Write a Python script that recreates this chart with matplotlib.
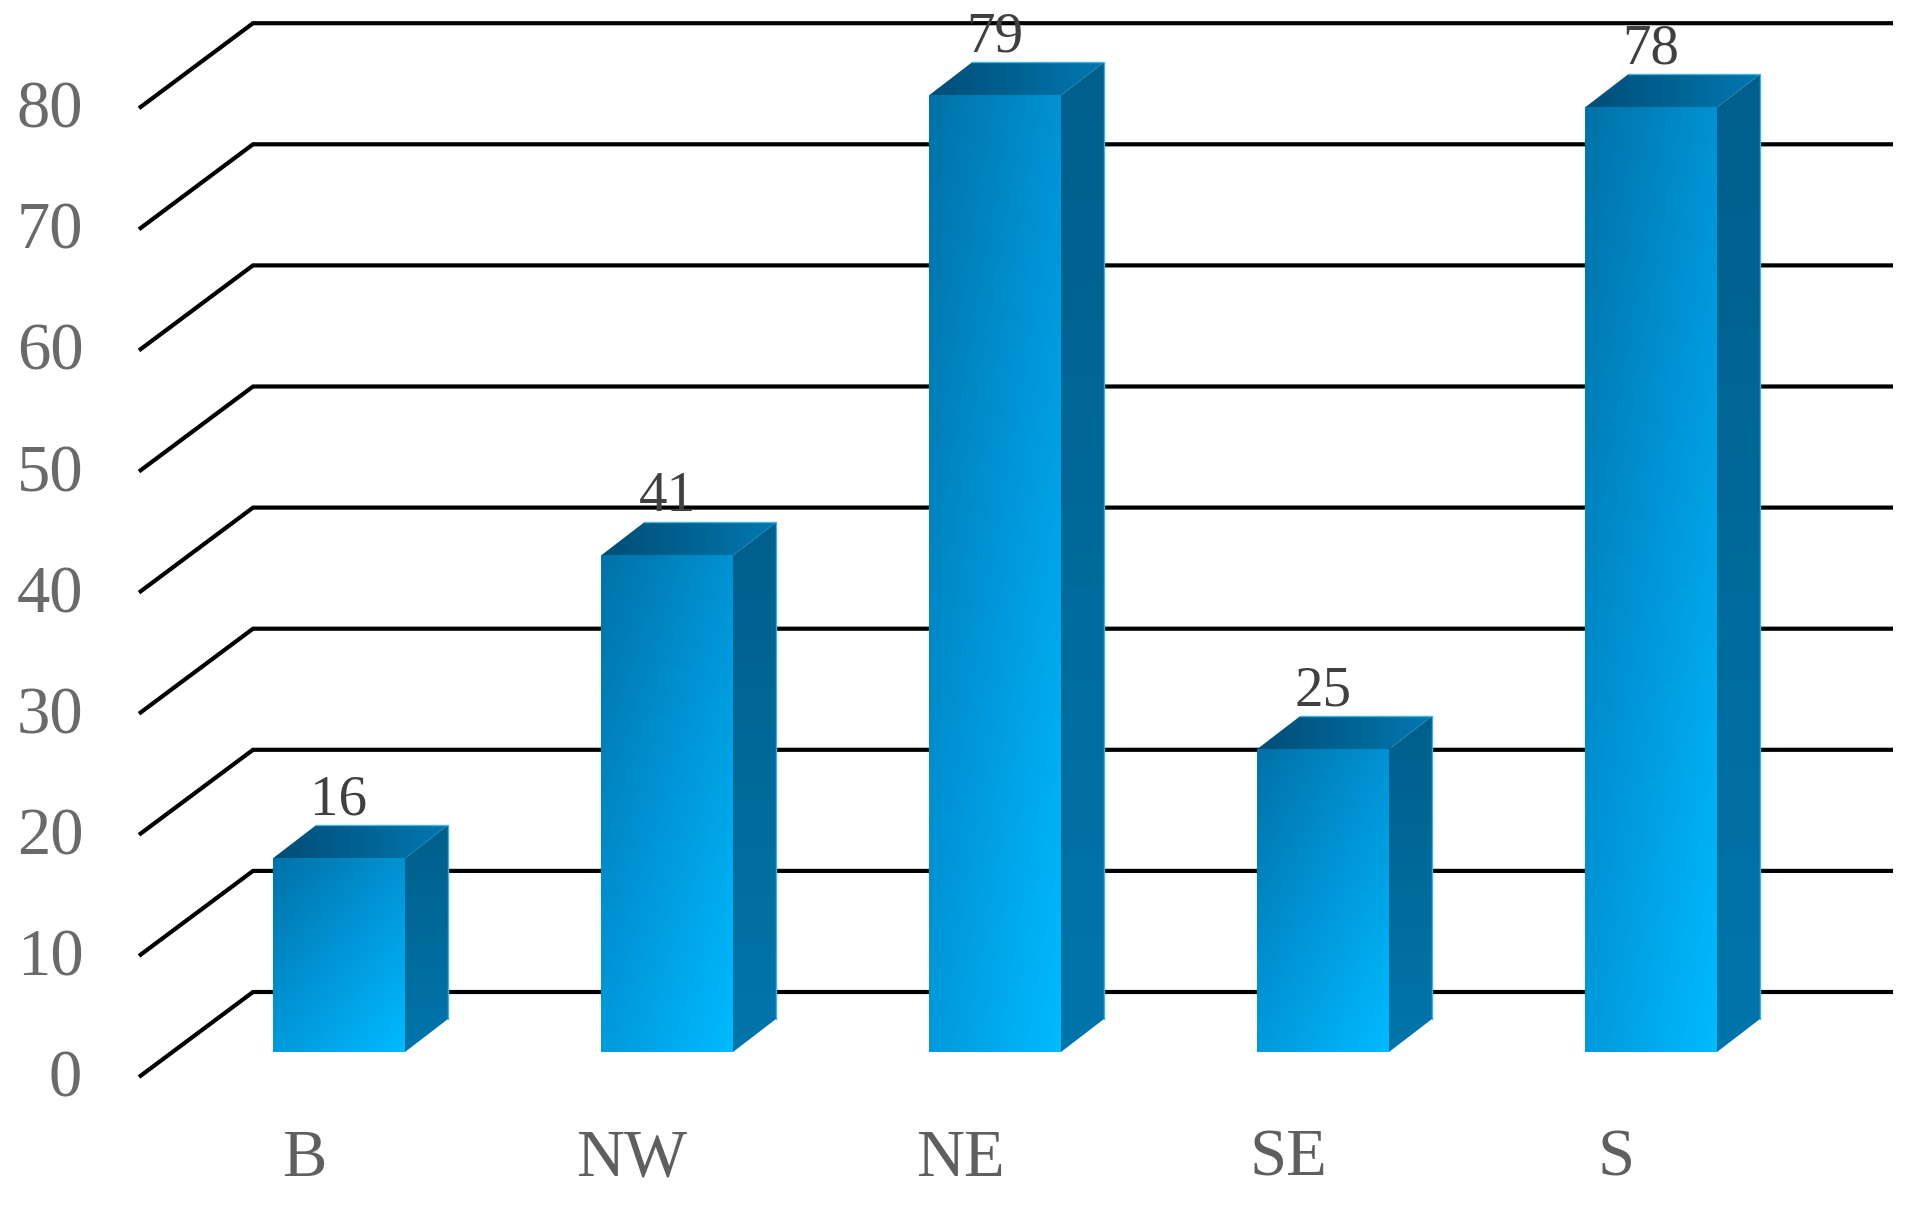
import numpy as np
from matplotlib import pyplot as plt
from matplotlib.colors import LinearSegmentedColormap
from matplotlib.patches import Polygon

categories = ['B', 'NW', 'NE', 'SE', 'S']
values = [16, 41, 79, 25, 78]
yticks = [0, 10, 20, 30, 40, 50, 60, 70, 80]

W, H = 1917, 1205
PX_X = 328.0    # pixels per category
PX_Y = 12.11    # pixels per unit
X0, Y0 = 339, 1052

plt.rcParams['font.family'] = ['Liberation Serif', 'DejaVu Serif']

fig = plt.figure(figsize=(W / 100, H / 100), dpi=100)
ax = fig.add_axes([0, 0, 1, 1])
ax.set_xlim(-X0 / PX_X, (W - X0) / PX_X)
ax.set_ylim((Y0 - H) / PX_Y, Y0 / PX_Y)
ax.axis('off')

def dx(px):
    return px / PX_X

def dy(px):
    return px / PX_Y

FRONT = LinearSegmentedColormap.from_list('front', ['#0072a8', '#0096d8', '#00baff'])
SIDE = LinearSegmentedColormap.from_list('side', ['#005f8c', '#0078ae'])
TOP = LinearSegmentedColormap.from_list('top', ['#004d76', '#0078b0'])

def shaded(corners, grad, cmap, z):
    xs = [c[0] for c in corners]
    ys = [c[1] for c in corners]
    im = ax.imshow(grad, cmap=cmap, vmin=0, vmax=1, origin='lower', aspect='auto', zorder=z,
                   extent=(min(xs), max(xs), min(ys), max(ys)), interpolation='bilinear')
    clip = Polygon(corners, transform=ax.transData, facecolor='none', edgecolor='none')
    ax.add_patch(clip)
    im.set_clip_path(clip)

# grid: slanted floor part, then running to the right
for v in yticks:
    y_front = v + dy(-25)
    y_back = v + dy(60)
    ax.plot([dx(139 - X0), dx(253 - X0), dx(1893 - X0)], [y_front, y_back, y_back],
            color='black', lw=3.0, solid_joinstyle='miter', solid_capstyle='butt', zorder=1)
    ax.text(dx((50 if v else 65) - X0), v + dy(-28), str(v), ha='center', va='center', fontsize=48, color='#6a6a6a')

half = dx(66)
ddx, ddy = dx(43), dy(33)
ramp = np.linspace(0, 1, 64)
uu, vv = np.meshgrid(ramp, ramp)

for i, (cat, val) in enumerate(zip(categories, values)):
    l, r = i - half, i + half
    # side, top, then front face
    shaded([(r, 0), (r + ddx, ddy), (r + ddx, val + ddy), (r, val)], vv[::-1] * 0.9, SIDE, 3)
    shaded([(l, val), (r, val), (r + ddx, val + ddy), (l + ddx, val + ddy)], uu, TOP, 3)
    shaded([(l, 0), (r, 0), (r, val), (l, val)], (uu * 0.45 + (1 - vv) * 0.55), FRONT, 4)
    ax.plot([l + ddx, r + ddx, r + ddx], [val + ddy, val + ddy, ddy], color='#3fb4dc', lw=1, zorder=5)
    ax.text(i + dx(0), val + dy(33 + 25), str(val), ha='center', va='center', fontsize=41, color='#404040', zorder=6)
    ax.text(i + dx(-35), dy(Y0 - 1159), cat, ha='center', va='center', fontsize=48, color='#5f5f5f')

ax.set_xlim(-X0 / PX_X, (W - X0) / PX_X)
ax.set_ylim((Y0 - H) / PX_Y, Y0 / PX_Y)
fig.savefig('out.png', dpi=100, facecolor='white')
